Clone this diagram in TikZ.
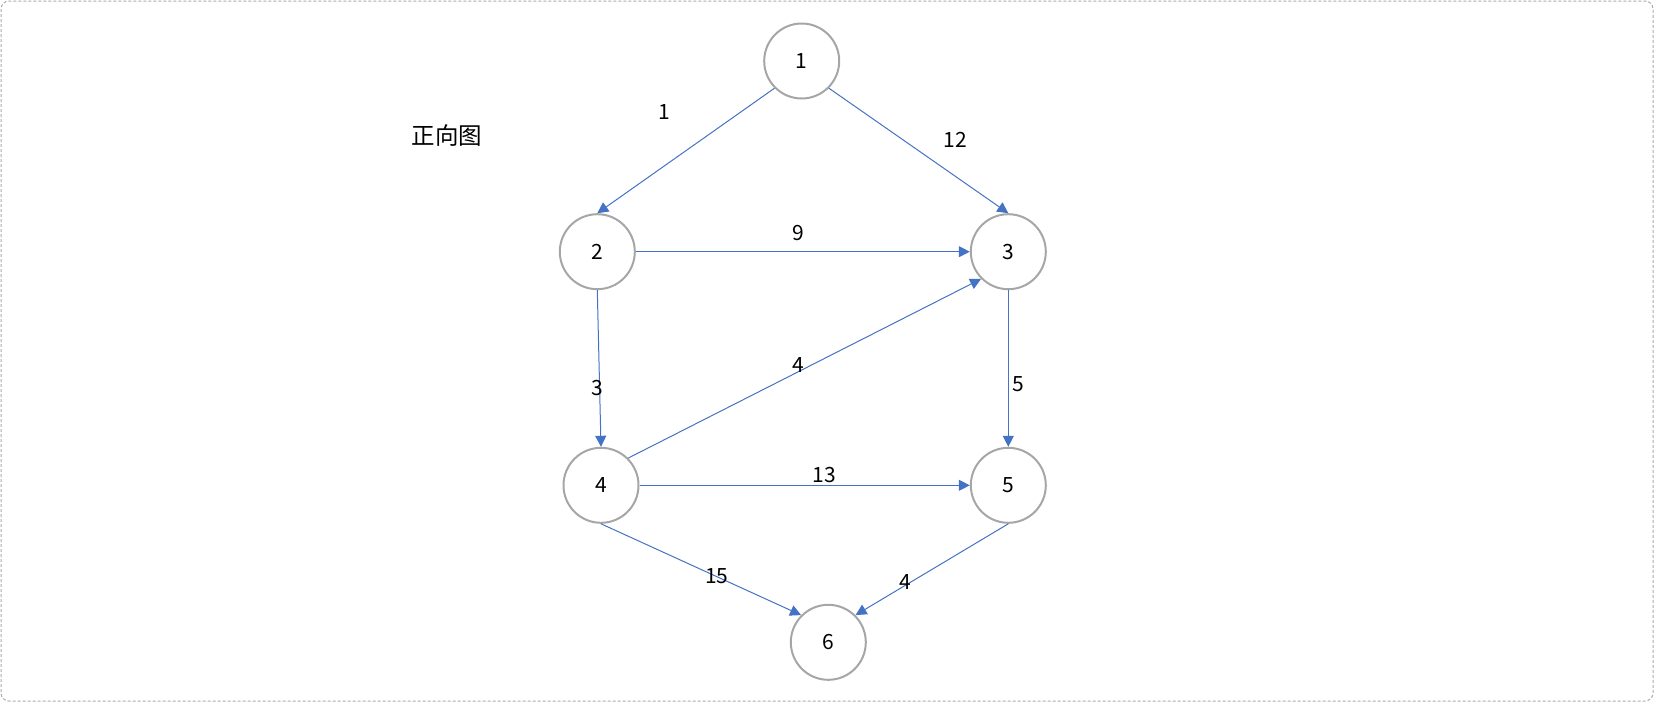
\documentclass[tikz,border=0pt]{standalone}
\usepackage{fontspec}
\newfontfamily\cjk{Noto Sans CJK SC}
\usetikzlibrary{arrows.meta}
\definecolor{edgeblue}{RGB}{68,114,196}
\definecolor{ringgray}{RGB}{166,166,166}
\definecolor{framegray}{RGB}{170,170,170}

\begin{document}
\begin{tikzpicture}[x=1pt, y=-1pt,
  vertex/.style={circle, draw=ringgray, line width=2pt, minimum size=75pt, inner sep=0pt, font=\cjk\fontsize{21}{25}\selectfont},
  weight/.style={inner sep=1pt, font=\cjk\fontsize{21}{25}\selectfont},
  arrow/.style={-{Triangle[length=11pt, width=11pt]}, edgeblue, line width=1pt}
]
  \useasboundingbox (0,0) rectangle (1654,702);
  % Frame
  \draw[framegray, line width=1pt, dash pattern=on 3pt off 2pt, rounded corners=8pt] (1,1) rectangle (1653,701);

  % Title
  \node[weight, font=\cjk\fontsize{23.5}{28}\selectfont] (title) at (447,136) {正向图};

  % Vertices
  \node[vertex] (v1) at (801.7,61) {1};
  \node[vertex] (v2) at (597.3,251.7) {2};
  \node[vertex] (v3) at (1008.3,251.7) {3};
  \node[vertex] (v4) at (601,485.3) {4};
  \node[vertex] (v5) at (1008.3,485.3) {5};
  \node[vertex] (v6) at (828.3,642.3) {6};

  % Edges
  \draw[arrow] (v1.south west) -- (v2.north);
  \draw[arrow] (v1.south east) -- (v3.north);
  \draw[arrow] (v2.east) -- (v3.west);
  \draw[arrow] (v2.south) -- (v4.north);
  \draw[arrow] (v4.north east) -- (v3.south west);
  \draw[arrow] (v3.south) -- (v5.north);
  \draw[arrow] (v4.east) -- (v5.west);
  \draw[arrow] (v4.south) -- (v6.north west);
  \draw[arrow] (v5.south) -- (v6.north east);

  % Weights
  \node[weight] (w12) at (664,111.7) {1};
  \node[weight] (w13) at (955,140) {12};
  \node[weight] (w23) at (798.3,233.3) {9};
  \node[weight] (w24) at (597,388) {3};
  \node[weight] (w43) at (798.5,365) {4};
  \node[weight] (w35) at (1018,384) {5};
  \node[weight] (w45) at (824,475) {13};
  \node[weight] (w46) at (716.7,575.7) {15};
  \node[weight] (w56) at (905,582.3) {4};
\end{tikzpicture}
\end{document}
